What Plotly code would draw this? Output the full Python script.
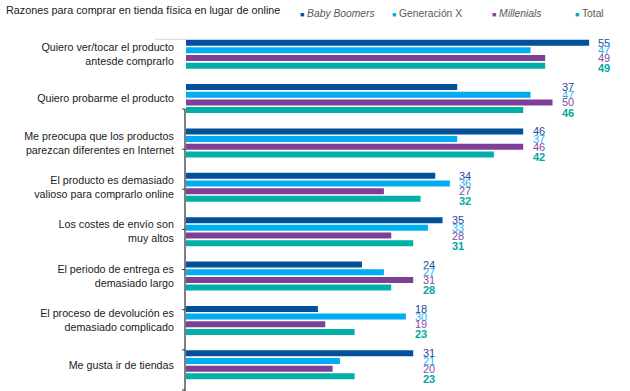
import plotly.graph_objects as go

title_text = "Razones para comprar en tienda física en lugar de online"
categories = [
    "Quiero ver/tocar el producto<br>antesde comprarlo",
    "Quiero probarme el producto",
    "Me preocupa que los productos<br>parezcan diferentes en Internet",
    "El producto es demasiado<br>valioso para comprarlo online",
    "Los costes de envío son<br>muy altos",
    "El periodo de entrega es<br>demasiado largo",
    "El proceso de devolución es<br>demasiado complicado",
    "Me gusta ir de tiendas",
]
series_names = ["Baby Boomers", "Generación X", "Millenials", "Total"]
baby_boomers = [55, 37, 46, 34, 35, 24, 18, 31]
generacion_x = [47, 47, 37, 36, 33, 27, 30, 21]
millenials = [49, 50, 46, 27, 28, 31, 19, 20]
total = [49, 46, 42, 32, 31, 28, 23, 23]

series_values = [baby_boomers, generacion_x, millenials, total]
bar_colors = ["#03519B", "#00AEEF", "#7E3F97", "#00AFA7"]
label_colors = ["#27489A", "#2AB4EE", "#8A4BA4", "#00A99D"]
legend_italic = [True, False, True, False]

W, H = 630, 391
plot_top, plot_bot = 32, 387
x_left = 186
bargap = 0.306
bargroupgap = 0.22

fig = go.Figure()
for name, vals, col in zip(series_names, series_values, bar_colors):
    fig.add_trace(go.Bar(
        y=categories, x=vals, orientation="h", name=name,
        marker=dict(color=col, line=dict(width=0)),
        hoverinfo="x+name", showlegend=False,
    ))

# value labels stacked right of each group's longest bar
slot = (1 - bargap) / len(series_names)
annotations = []
for i in range(len(categories)):
    gmax = max(v[i] for v in series_values)
    for k, vals in enumerate(series_values):
        annotations.append(dict(
            x=gmax + 1.0, y=i + (k - 1.5) * slot, xref="x", yref="y",
            text=f"<b>{vals[i]}</b>" if k == 3 else str(vals[i]),
            showarrow=False, xanchor="left", yanchor="middle",
            yshift=-2.5 if k == 3 else 0,
            font=dict(family="Liberation Sans, Arial", size=11, color=label_colors[k]),
        ))

# title
annotations.append(dict(
    x=4 / W, y=(H - 10) / H, xref="paper", yref="paper", xanchor="left", yanchor="middle",
    text=title_text, showarrow=False,
    font=dict(family="Liberation Sans, Arial", size=10.8, color="#1a1a1a"),
))

# legend (manual)
legend_x = [297.5, 390, 489.5, 572.5]
for name, col, ital, lx in zip(series_names, bar_colors, legend_italic, legend_x):
    nm = f"<i>{name}</i>" if ital else name
    annotations.append(dict(
        x=lx / W, y=(H - 13.5) / H, xref="paper", yref="paper", xanchor="left", yanchor="middle",
        text=f"<span style='color:{col};font-size:7px'>■</span> {nm}", showarrow=False,
        font=dict(family="Liberation Sans, Arial", size=10.3, color="#595959"),
    ))

shapes = []
# faint top rule
shapes.append(dict(type="line", xref="paper", yref="paper", layer="above",
                   x0=155 / W, x1=493 / W, y0=(H - 39.3) / H, y1=(H - 39.3) / H,
                   line=dict(color="#D0D9E4", width=1)))
# partial vertical axis line with ticks
shapes.append(dict(type="line", xref="paper", yref="paper", layer="above",
                   x0=185 / W, x1=185 / W, y0=(H - 109) / H, y1=0,
                   line=dict(color="#7F7F7F", width=2)))
for k in range(8):
    p = 109 + k * 40.14
    shapes.append(dict(type="line", xref="paper", yref="paper", layer="above",
                       x0=182 / W, x1=185 / W, y0=(H - p) / H, y1=(H - p) / H,
                       line=dict(color="#333333", width=1)))

fig.update_layout(
    width=W, height=H,
    margin=dict(l=0, r=0, t=0, b=0),
    paper_bgcolor="white", plot_bgcolor="white",
    barmode="group", bargap=bargap, bargroupgap=bargroupgap,
    xaxis=dict(domain=[x_left / W, 1], range=[0, 444 / 7.33], visible=False, fixedrange=True),
    yaxis=dict(domain=[(H - plot_bot) / H, (H - plot_top) / H], autorange="reversed",
               showline=False, showgrid=False, zeroline=False,
               ticks="outside", ticklen=9, tickcolor="rgba(0,0,0,0)",
               tickfont=dict(family="Liberation Sans, Arial", size=10.7, color="#1a1a1a"),
               automargin=False, fixedrange=True),
    annotations=annotations, shapes=shapes,
    showlegend=False,
)

fig.write_html("out.html", config={"displayModeBar": False},
               post_script="document.body.style.margin='0';document.body.style.overflow='hidden';")
